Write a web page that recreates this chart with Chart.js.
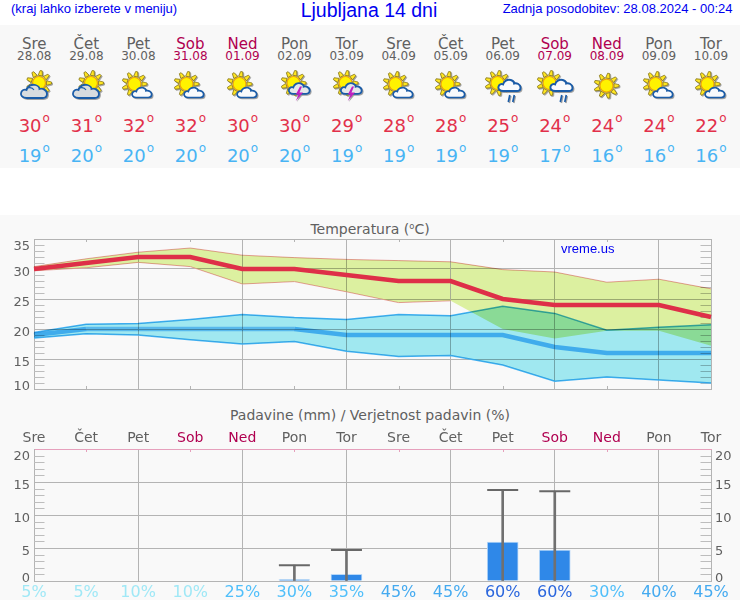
<!DOCTYPE html>
<html lang="sl">
<head>
<meta charset="UTF-8">
<title>Ljubljana 14 dni</title>
<style>
    html, body { margin: 0; padding: 0; background: #fff; }
    #page { position: relative; width: 740px; height: 600px; overflow: hidden; font-family: "DejaVu Sans", sans-serif; color: #606060; }
    #band1 { position: absolute; left: 0; top: 25px; width: 740px; height: 143px; background: #f8f8f8; }
    #band2 { position: absolute; left: 0; top: 215px; width: 740px; height: 385px; background: #f9f9f9; }
    .blue { position: absolute; color: #0000f0; font-family: "Liberation Sans", Arial, sans-serif; white-space: nowrap; }
    .title { position: absolute; left: 0; width: 740px; text-align: center; font-size: 14px; white-space: nowrap; }
    .title sup { font-size: 60%; vertical-align: baseline; position: relative; top: -0.55em; }
    .deg { font-size: 12px; position: relative; top: -10px; margin-left: 1px; }
    .cell { position: absolute; width: 60px; text-align: center; white-space: nowrap; }
    canvas { position: absolute; left: 0; }
    svg.icon { position: absolute; top: 70px; width: 52px; height: 40px; filter: drop-shadow(1px 1px 0.6px rgba(0, 0, 0, .35)); }
</style>
</head>
<body>
<div id="page">
    <div id="band1"></div>
    <div id="band2"></div>
    <div class="blue" style="left:11px;top:1px;font-size:13px">(kraj lahko izberete v meniju)</div>
    <div class="blue" style="left:0;width:738px;text-align:center;top:-1px;font-size:19.5px">Ljubljana 14 dni</div>
    <div class="blue" style="right:7.5px;top:1px;font-size:13px">Zadnja posodobitev: 28.08.2024 - 00:24</div>
    <div id="cells"></div>
    <div class="title" style="top:221px">Temperatura (<sup>o</sup>C)</div>
    <div class="title" style="top:407px">Padavine (mm) / Verjetnost padavin (%)</div>
    <canvas id="temp-chart" width="740" height="165" style="top:232px"></canvas>
    <canvas id="rain-chart" width="740" height="175" style="top:425px"></canvas>
    <div class="blue" style="left:561px;top:241px;font-size:13px">vreme.us</div>

    <svg width="0" height="0" style="position:absolute">
        <defs>
            <path id="ray" d="M-2.200-7.500L-1-12.500H1L2.200-7.500Z" fill="#ffe620" stroke="#8a7a20" stroke-width=".8"/>
            <g id="sun">
                <use href="#ray" transform="rotate(10)"/>
                <use href="#ray" transform="rotate(50)"/>
                <use href="#ray" transform="rotate(90)"/>
                <use href="#ray" transform="rotate(130)"/>
                <use href="#ray" transform="rotate(170)"/>
                <use href="#ray" transform="rotate(210)"/>
                <use href="#ray" transform="rotate(250)"/>
                <use href="#ray" transform="rotate(290)"/>
                <use href="#ray" transform="rotate(330)"/>
                <circle r="6.500" fill="#fff200" stroke="#f0a800" stroke-width="1.200"/>
            </g>
            <path id="cloud" d="M6 16C2 16 0 13.500 .5 11C1 8 4 7 6 8C7 4 11 2 15 3C18 4 19 6 19 7C22 6 26.500 8 26.500 12C26.500 15 24 16 22 16Z"/>
            <symbol id="i-cloudy" viewBox="0 0 52 40">
                <use href="#sun" x="31" y="13"/>
                <use href="#cloud" transform="translate(12.500 12)" fill="#d8dcdf" stroke="#1a5ca8" stroke-width="1.800"/>
                <path d="M18 19C20 17 24 17 26 20" fill="none" stroke="#1a5ca8" stroke-width="1.200"/>
            </symbol>
            <symbol id="i-fair" viewBox="0 0 52 40">
                <use href="#sun" x="22.500" y="14"/>
                <use href="#cloud" transform="translate(19.800 15.500) scale(.75)" fill="#f8fafc" stroke="#1a5ca8" stroke-width="2.300"/>
            </symbol>
            <symbol id="i-storm" viewBox="0 0 52 40">
                <use href="#sun" x="24.500" y="13"/>
                <use href="#cloud" transform="translate(19.500 11) scale(.8)" fill="#e4e7ea" stroke="#1a5ca8" stroke-width="2.300"/>
                <path d="M31 16.500L26.800 24.500H29.500L26.800 31L34 22.500H30.500L33 16.500Z" fill="#c020c0"/>
            </symbol>
            <symbol id="i-rain" viewBox="0 0 52 40">
                <use href="#sun" x="20.500" y="13"/>
                <use href="#cloud" transform="translate(21 7.500) scale(.85)" fill="#f8fafc" stroke="#1a5ca8" stroke-width="2.300"/>
                <path d="M32.800 25L31.300 32M37.300 25L35.800 32" stroke="#1a5ca8" stroke-width="1.700" fill="none"/>
            </symbol>
            <symbol id="i-sun" viewBox="0 0 52 40">
                <use href="#sun" x="25.500" y="15.700"/>
            </symbol>
        </defs>
    </svg>
</div>

<script src="https://cdn.jsdelivr.net/npm/chart.js"></script>
<script>
    const days = ['Sre', 'Čet', 'Pet', 'Sob', 'Ned', 'Pon', 'Tor', 'Sre', 'Čet', 'Pet', 'Sob', 'Ned', 'Pon', 'Tor'];
    const dates = ['28.08', '29.08', '30.08', '31.08', '01.09', '02.09', '03.09', '04.09', '05.09', '06.09', '07.09', '08.09', '09.09', '10.09'];
    const icons = ['cloudy', 'cloudy', 'fair', 'fair', 'fair', 'storm', 'storm', 'fair', 'fair', 'rain', 'rain', 'sun', 'fair', 'fair'];

    const tMax = [30, 31, 32, 32, 30, 30, 29, 28, 28, 25, 24, 24, 24, 22];
    const tMin = [19, 20, 20, 20, 20, 20, 19, 19, 19, 19, 17, 16, 16, 16];
    const maxHigh = [30.4, 31.7, 32.8, 33.5, 32.3, 31.9, 31.6, 31.4, 31.2, 29.9, 29.5, 27.8, 28.3, 26.7];
    const maxLow = [29.7, 30.2, 31.1, 30.4, 27.5, 27.9, 26.2, 24.4, 24.7, 20.0, 18.4, 19.7, 19.7, 17.2];
    const minHigh = [19.4, 20.8, 20.9, 21.6, 22.4, 21.9, 21.6, 22.4, 22.2, 23.8, 22.6, 19.8, 20.3, 20.7];
    const minLow = [18.5, 19.2, 19.0, 18.2, 17.5, 17.9, 16.3, 15.4, 15.6, 14.0, 11.3, 12.0, 11.5, 11.0];

    const rain = [null, null, null, null, null, 0.2, 1.0, null, null, 5.9, 4.7, null, null, null];
    const rainHigh = [null, null, null, null, null, 2.4, 4.7, null, null, 13.8, 13.6, null, null, null];
    const rainChance = ['5%', '5%', '10%', '10%', '25%', '30%', '35%', '45%', '45%', '60%', '60%', '30%', '40%', '45%'];

    const tempTicks = [35, 30, 25, 20, 15, 10];
    const rainTicks = [20, 15, 10, 5, 0];

    const gray = '#606060';
    const gridGray = '#b4b4b4';
    const weekend = '#b00050';
    const pink = '#e6a0bc';

    function dayColor(i) {
        return (days[i] === 'Sob' || days[i] === 'Ned') ? weekend : gray;
    }

    function chanceColor(label) {
        const p = parseInt(label);
        if (p <= 10) return '#a0e8f6';
        if (p <= 35) return '#50bffa';
        if (p <= 45) return '#44aaf0';
        return '#2a66dd';
    }

    // header with the 14 day columns
    const cells = document.getElementById('cells');
    days.forEach((d, i) => {
        const x = 34.3 + i * 52.05;
        const col = dayColor(i);
        cells.innerHTML += `
            <div class="cell" style="left:${x - 30}px;top:35px;font-size:15px;color:${col}">${d}</div>
            <div class="cell" style="left:${x - 30}px;top:49px;font-size:12px;color:${col}">${dates[i]}</div>
            <svg class="icon" style="left:${x - 26}px"><use href="#i-${icons[i]}"/></svg>
            <div class="cell" style="left:${x - 30}px;top:115px;font-size:18px;color:#e2304a">${tMax[i]}<span class="deg">o</span></div>
            <div class="cell" style="left:${x - 30}px;top:145px;font-size:18px;color:#48b4f4">${tMin[i]}<span class="deg">o</span></div>`;
    });

    // bands multiply with whatever is under them, like in the original picture.
    // filler has to run after this plugin, so it is registered again at the end
    const blendPlugin = {
        id: 'blendBands',
        beforeDatasetDraw(chart, args) {
            if (chart.data.datasets[args.index].blend) chart.ctx.globalCompositeOperation = 'multiply';
        },
        afterDatasetDraw(chart) {
            chart.ctx.globalCompositeOperation = 'source-over';
        }
    };
    const filler = Chart.registry.getPlugin('filler');
    Chart.unregister(filler);
    Chart.register(blendPlugin, filler);

    // short tick marks on the frame and the y labels, which sit inside at the ends
    const frameMarks = {
        id: 'frameMarks',
        beforeDatasetsDraw(chart, args, opts) {
            const { ctx, chartArea: a, scales } = chart;
            ctx.save();
            ctx.lineWidth = 1;
            ctx.strokeStyle = '#bdbdbd';
            ctx.beginPath();
            scales.y.ticks.forEach(t => {
                if (t.value % 5 === 0) return;
                const y = Math.round(scales.y.getPixelForValue(t.value)) + 0.5;
                ctx.moveTo(a.left, y);
                ctx.lineTo(a.left + 10.5, y);
                ctx.moveTo(a.right - 10.5, y);
                ctx.lineTo(a.right, y);
            });
            ctx.stroke();
            ctx.strokeStyle = opts.topColor;
            ctx.beginPath();
            for (let i = 1; i < 13; i += 2) {
                const x = Math.round(scales.x.getPixelForTick(i)) + 0.5;
                ctx.moveTo(x, a.top);
                ctx.lineTo(x, a.top + 3);
                if (opts.bottom) {
                    ctx.moveTo(x, a.bottom);
                    ctx.lineTo(x, a.bottom - 3);
                }
            }
            ctx.stroke();
            ctx.restore();
        },
        afterDraw(chart, args, opts) {
            const { ctx, chartArea: a, scales } = chart;
            ctx.save();
            ctx.font = '13px "DejaVu Sans"';
            ctx.fillStyle = gray;
            ctx.textBaseline = 'middle';
            opts.labels.forEach((v, i) => {
                let shift = 3.5;
                if (i === 0) shift = 7.5;
                if (i === opts.labels.length - 1) shift = -2.5;
                const y = scales.y.getPixelForValue(v) + shift;
                ctx.textAlign = 'right';
                ctx.fillText(v, a.left - 4, y);
                if (opts.right) {
                    ctx.textAlign = 'left';
                    ctx.fillText(v, a.right + 4, y);
                }
            });
            ctx.restore();
        }
    };

    const xGrid = {
        offset: false,
        color: c => (c.index % 2 === 0 || c.index === 13) ? gridGray : 'transparent',
        drawTicks: false
    };
    const yGrid = {
        color: c => c.tick.value % 5 === 0 ? gridGray : 'transparent',
        drawTicks: false
    };

    new Chart(document.getElementById('temp-chart'), {
        type: 'line',
        data: {
            labels: days,
            datasets: [
                {
                    data: tMin,
                    borderColor: '#66bdfb',
                    borderWidth: 4.5,
                    blend: true,
                    segment: { borderColor: c => (c.p0.parsed.y === 20 && c.p1.parsed.y === 20) ? '#8cccfb' : undefined }
                },
                { data: tMax, borderColor: '#de2f48', borderWidth: 4.5 },
                { data: minHigh, borderColor: '#45b2f2', borderWidth: 1.5, backgroundColor: '#a0e8f0', fill: '+1', blend: true },
                { data: minLow, borderColor: '#45b2f2', borderWidth: 1.5 },
                { data: maxHigh, borderColor: '#eaa0a0', borderWidth: 1, backgroundColor: '#dcf0a0', fill: '+1', blend: true },
                {
                    data: maxLow,
                    borderColor: '#eaa0a0',
                    borderWidth: 1,
                    // the pink edge is not seen where the blue band covers it
                    segment: { borderColor: c => c.p1.parsed.y < minHigh[c.p1DataIndex] ? 'transparent' : undefined }
                }
            ]
        },
        options: {
            responsive: false,
            animation: false,
            devicePixelRatio: 1,
            layout: { padding: { left: 34, right: 29, top: 7, bottom: 8 } },
            elements: { point: { radius: 0 }, line: { tension: 0 } },
            plugins: {
                legend: { display: false },
                tooltip: { enabled: false },
                frameMarks: { labels: tempTicks, right: false, bottom: true, topColor: gridGray }
            },
            scales: {
                x: {
                    offset: false,
                    grid: xGrid,
                    border: { color: gridGray },
                    ticks: { display: false }
                },
                y: {
                    min: 10,
                    max: 35,
                    grid: yGrid,
                    border: { color: gridGray },
                    ticks: { display: false, stepSize: 1 }
                }
            }
        },
        plugins: [frameMarks]
    });

    new Chart(document.getElementById('rain-chart'), {
        type: 'bar',
        data: {
            labels: days,
            datasets: [
                { type: 'line', data: rainHigh, showLine: false, pointStyle: 'line', pointRadius: 15.5, pointBorderWidth: 2, pointBorderColor: '#686868' },
                { data: rainHigh, backgroundColor: '#707070', barThickness: 2, grouped: false },
                { data: rain, backgroundColor: '#2f88e8', borderColor: '#b8d8f8', borderWidth: 1, barThickness: 31, grouped: false }
            ]
        },
        options: {
            responsive: false,
            animation: false,
            devicePixelRatio: 1,
            layout: { padding: { left: 34, right: 29 } },
            plugins: {
                legend: { display: false },
                tooltip: { enabled: false },
                frameMarks: { labels: rainTicks, right: true, bottom: false, topColor: pink }
            },
            scales: {
                x: {
                    position: 'top',
                    offset: false,
                    afterFit(s) { s.height = 24; },
                    grid: xGrid,
                    border: { color: pink },
                    ticks: {
                        autoSkip: false,
                        maxRotation: 0,
                        padding: 2,
                        font: { family: 'DejaVu Sans', size: 14 },
                        color: c => dayColor(c.index)
                    }
                },
                chance: {
                    type: 'category',
                    labels: rainChance,
                    position: 'bottom',
                    offset: false,
                    afterFit(s) { s.height = 19; },
                    grid: { display: false, drawTicks: false },
                    border: { color: gridGray },
                    ticks: {
                        autoSkip: false,
                        maxRotation: 0,
                        padding: 2,
                        font: { family: 'DejaVu Sans', size: 16 },
                        color: c => chanceColor(rainChance[c.index])
                    }
                },
                y: {
                    min: 0,
                    max: 20,
                    grid: {
                        color: c => (c.tick.value % 5 === 0 && c.tick.value !== 20) ? gridGray : 'transparent',
                        drawTicks: false
                    },
                    border: { color: gridGray },
                    ticks: { display: false, stepSize: 1 }
                }
            }
        },
        plugins: [frameMarks]
    });
</script>
</body>
</html>
